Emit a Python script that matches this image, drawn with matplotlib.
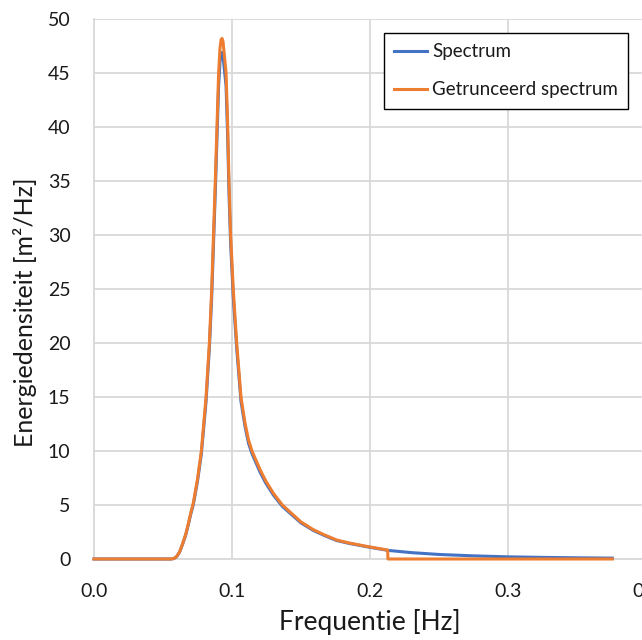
import numpy as np
import matplotlib.pyplot as plt

# values
freq_blue = [0.000, 0.056, 0.058, 0.060, 0.062, 0.0643, 0.0665, 0.0684, 0.070, 0.072,
             0.075, 0.0778, 0.0812, 0.0836, 0.0853, 0.0866, 0.0879, 0.0891, 0.0903,
             0.0913, 0.0921, 0.0928, 0.0935, 0.0945, 0.0957, 0.0969, 0.0978, 0.0990,
             0.1009, 0.1034, 0.1065, 0.1094, 0.1120, 0.1145, 0.1203, 0.1245, 0.1300,
             0.1365, 0.1500, 0.1590, 0.1670, 0.1758, 0.1850, 0.1988, 0.2128, 0.2300,
             0.2500, 0.2750, 0.3000, 0.3250, 0.3500, 0.3756]
spec_blue = [0.0, 0.0, 0.05, 0.24, 0.63, 1.41, 2.24, 3.21, 4.09, 5.06,
             7.2, 9.73, 14.6, 19.5, 24.3, 29.2, 34.0, 38.9, 43.8,
             46.0, 46.8, 46.9, 46.6, 45.3, 43.8, 38.9, 34.0, 29.2,
             24.3, 19.5, 14.6, 12.3, 10.7, 9.75, 8.05, 7.02, 5.92,
             4.87, 3.34, 2.64, 2.17, 1.71, 1.44, 1.11, 0.80, 0.59,
             0.42, 0.29, 0.20, 0.15, 0.11, 0.08]

freq_trunc = [0.000, 0.056, 0.058, 0.060, 0.062, 0.0643, 0.0665, 0.0684, 0.070, 0.072,
              0.075, 0.0778, 0.0812, 0.0836, 0.0853, 0.0866, 0.0879, 0.0891, 0.0903,
              0.0913, 0.0921, 0.0928, 0.0935, 0.0945, 0.0957, 0.0969, 0.0978, 0.0990,
              0.1009, 0.1034, 0.1065, 0.1094, 0.1120, 0.1145, 0.1203, 0.1245, 0.1300,
              0.1365, 0.1500, 0.1590, 0.1670, 0.1758, 0.1850, 0.1988, 0.2128, 0.2130,
              0.3000, 0.3756]
spec_trunc = [0.0, 0.0, 0.05, 0.25, 0.65, 1.45, 2.3, 3.3, 4.2, 5.2,
              7.4, 10.0, 15.0, 20.0, 25.0, 30.0, 35.0, 40.0, 45.0,
              47.3, 48.1, 48.2, 47.9, 46.6, 45.0, 40.0, 35.0, 30.0,
              25.0, 20.0, 15.0, 12.6, 11.0, 10.0, 8.28, 7.22, 6.08,
              5.0, 3.43, 2.71, 2.23, 1.76, 1.48, 1.14, 0.83, 0.0,
              0.0, 0.0]

series_names = ["Spectrum", "Getrunceerd spectrum"]
x_ticks = [0.0, 0.1, 0.2, 0.3, 0.4]
y_ticks = [0, 5, 10, 15, 20, 25, 30, 35, 40, 45, 50]

plt.rcParams['font.family'] = ['Lato', 'DejaVu Sans']
txt_col = '#1a1a1a'

fig = plt.figure(figsize=(6.42, 6.40), dpi=100)
# plot area runs past the right edge of the picture, like the original
ax = fig.add_axes([94/642, 1-559/640, 552/642, 540/640])

ax.plot(freq_blue, spec_blue, color='#4472C4', lw=2.2, label=series_names[0],
        clip_on=False, solid_joinstyle='round', zorder=3)
ax.plot(freq_trunc, spec_trunc, color='#ED7D31', lw=2.2, label=series_names[1],
        clip_on=False, solid_joinstyle='round', zorder=4)

ax.set_xlim(0, 0.4)
ax.set_ylim(0, 50)
ax.set_xticks(x_ticks)
ax.set_xticklabels([f"{v:.1f}" for v in x_ticks])
ax.set_yticks(y_ticks)
ax.tick_params(axis='both', length=0, labelsize=14, colors=txt_col)
ax.tick_params(axis='x', pad=17)
ax.tick_params(axis='y', pad=17)
ax.grid(True, color='#D9D9D9', lw=1.3)
ax.set_axisbelow(True)
for s in ['top', 'right']:
    ax.spines[s].set_visible(False)
for s in ['left', 'bottom']:
    ax.spines[s].set_color('#D9D9D9')
    ax.spines[s].set_linewidth(1.3)

ax.set_xlabel("Frequentie [Hz]", fontsize=19, color=txt_col)
ax.set_ylabel("Energiedensiteit [m²/Hz]", fontsize=18, color=txt_col)
ax.xaxis.set_label_coords(0.5, -0.093)
ax.yaxis.set_label_coords(-0.103, 0.457)

leg = fig.legend(loc='upper left', bbox_to_anchor=(384/642, 1-33/640), fontsize=13.5,
                 frameon=True, fancybox=False, edgecolor='black', framealpha=1,
                 handlelength=1.75, handletextpad=0.27, labelspacing=1.12,
                 borderpad=0.55, borderaxespad=0)
leg.get_frame().set_linewidth(1.0)
for line in leg.get_lines():
    line.set_linewidth(2.2)
for t in leg.get_texts():
    t.set_color(txt_col)

fig.savefig("out.png", dpi=100)
